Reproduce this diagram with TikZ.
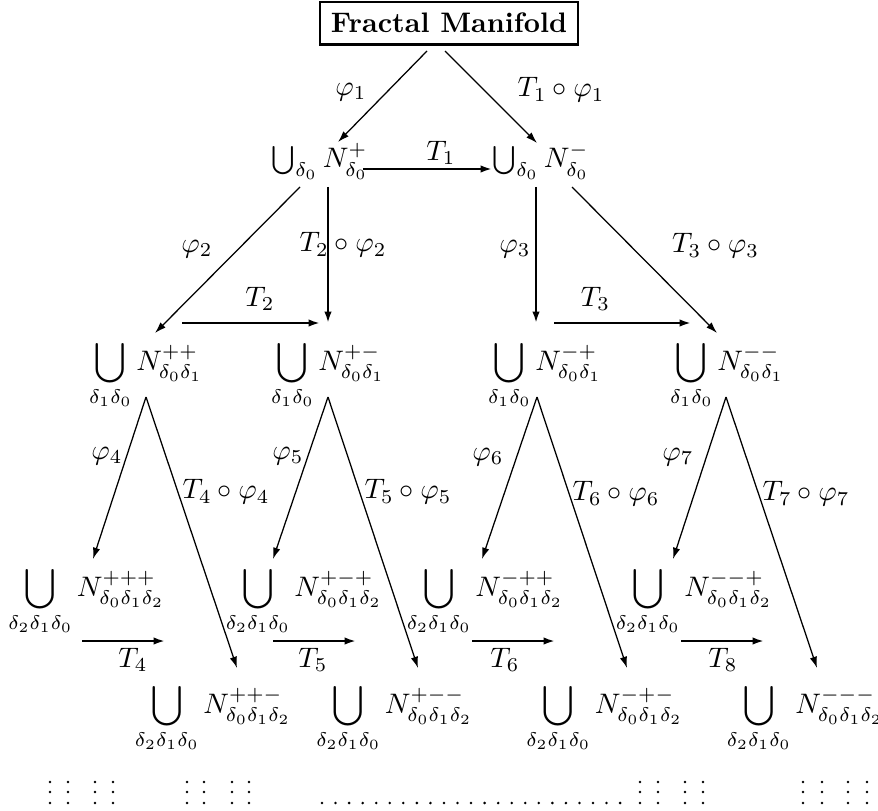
\documentclass[tikz,border=0pt]{standalone}
\usepackage{amsmath,amssymb}
\usepackage{tikz}
\usetikzlibrary{arrows.meta,positioning,calc}

\begin{document}
\begin{tikzpicture}[
  x=0.3546pt, y=-0.3546pt,
  >={Latex[length=4pt,width=2.6pt]},
  map/.style={->, line width=0.45pt},
  iso/.style={->, line width=0.75pt},
  lbl/.style={inner sep=1pt},
  mfd/.style={anchor=base, inner sep=0pt},
  title/.style={draw, line width=0.75pt, anchor=base,
                inner xsep=4pt, inner ysep=4pt, font=\bfseries}
]
\useasboundingbox (0,0) rectangle (878,810);

% ---- row baselines ----
\def\yA{168}
\def\yB{370}
\def\yC{596}
\def\yD{713}

% ---- Nodes ----
\node[title] (fm) at (449,33) {Fractal Manifold};

\node[mfd] (np) at (320,\yA) {$\bigcup_{\delta_0} N^{+}_{\delta_0}$};
\node[mfd] (nm) at (541,\yA) {$\bigcup_{\delta_0} N^{-}_{\delta_0}$};

\node[mfd] (npp) at (146,\yB) {$\displaystyle\bigcup_{\delta_1\delta_0} N^{++}_{\delta_0\delta_1}$};
\node[mfd] (npm) at (328,\yB) {$\displaystyle\bigcup_{\delta_1\delta_0} N^{+-}_{\delta_0\delta_1}$};
\node[mfd] (nmp) at (545,\yB) {$\displaystyle\bigcup_{\delta_1\delta_0} N^{-+}_{\delta_0\delta_1}$};
\node[mfd] (nmm) at (727,\yB) {$\displaystyle\bigcup_{\delta_1\delta_0} N^{--}_{\delta_0\delta_1}$};

\node[mfd] (nppp) at (86.5,\yC) {$\displaystyle\bigcup_{\delta_2\delta_1\delta_0} N^{+++}_{\delta_0\delta_1\delta_2}$};
\node[mfd] (npmp) at (304,\yC)  {$\displaystyle\bigcup_{\delta_2\delta_1\delta_0} N^{+-+}_{\delta_0\delta_1\delta_2}$};
\node[mfd] (nmpp) at (485,\yC)  {$\displaystyle\bigcup_{\delta_2\delta_1\delta_0} N^{-++}_{\delta_0\delta_1\delta_2}$};
\node[mfd] (nmmp) at (694,\yC)  {$\displaystyle\bigcup_{\delta_2\delta_1\delta_0} N^{--+}_{\delta_0\delta_1\delta_2}$};

\node[mfd] (nppm) at (213,\yD)   {$\displaystyle\bigcup_{\delta_2\delta_1\delta_0} N^{++-}_{\delta_0\delta_1\delta_2}$};
\node[mfd] (npmm) at (394.5,\yD) {$\displaystyle\bigcup_{\delta_2\delta_1\delta_0} N^{+--}_{\delta_0\delta_1\delta_2}$};
\node[mfd] (nmpm) at (604.5,\yD) {$\displaystyle\bigcup_{\delta_2\delta_1\delta_0} N^{-+-}_{\delta_0\delta_1\delta_2}$};
\node[mfd] (nmmm) at (805,\yD)   {$\displaystyle\bigcup_{\delta_2\delta_1\delta_0} N^{---}_{\delta_0\delta_1\delta_2}$};

% ---- first splitting ----
\draw[map] ($(fm.base)+(-22,18)$) -- node[lbl, shift={(-31.5,-4.5)}] {$\varphi_1$} ($(np.base)+(18,-26)$);
\draw[map] ($(fm.base)+(-4,18)$) -- node[lbl, shift={(70,-7)}] {$T_1\circ\varphi_1$} ($(nm.base)+(-4,-25)$);
\draw[iso] ($(np.base)+(43,1)$) -- node[lbl, shift={(13.5,-16)}] {$T_1$} ($(nm.base)+(-49,1)$);

% ---- second splitting ----
\draw[map] ($(np.base)+(-20,19)$) -- node[lbl, shift={(-30.5,-11)}] {$\varphi_2$} ($(npp.base)+(9,-37)$);
\draw[iso] ($(np.base)+(8,19)$) -- node[lbl, shift={(15,-10)}] {$T_2\circ\varphi_2$} ($(npm.base)+(0,-47)$);
\draw[iso] ($(npp.base)+(36,-47)$) -- node[lbl, shift={(9,-24)}] {$T_2$} ($(npm.base)+(-8,-47)$);

\draw[iso] ($(nm.base)+(-5,19)$) -- node[lbl, shift={(-21,-6)}] {$\varphi_3$} ($(nmp.base)+(-9,-47)$);
\draw[map] ($(nm.base)+(31,19)$) -- node[lbl, shift={(71,-14)}] {$T_3\circ\varphi_3$} ($(nmm.base)+(-10,-37)$);
\draw[iso] ($(nmp.base)+(9,-47)$) -- node[lbl, shift={(-27,-24)}] {$T_3$} ($(nmm.base)+(-36,-47)$);

% ---- third splitting ----
\draw[map] ($(npp.base)+(0,27)$) -- node[lbl, shift={(-12.5,-22)}] {$\varphi_4$} ($(nppp.base)+(6.5,-37)$);
\draw[map] ($(npp.base)+(0,27)$) -- node[lbl, shift={(34.5,-40.5)}] {$T_4\circ\varphi_4$} ($(nppm.base)+(24,-45)$);
\draw[map] ($(npm.base)+(0,27)$) -- node[lbl, shift={(-12.5,-22)}] {$\varphi_5$} ($(npmp.base)+(-31,-37)$);
\draw[map] ($(npm.base)+(0,27)$) -- node[lbl, shift={(35,-40.5)}] {$T_5\circ\varphi_5$} ($(npmm.base)+(23.5,-45)$);
\draw[map] ($(nmp.base)+(-8,27)$) -- node[lbl, shift={(-21.5,-21)}] {$\varphi_6$} ($(nmpp.base)+(-3,-37)$);
\draw[map] ($(nmp.base)+(-8,27)$) -- node[lbl, shift={(34,-38.5)}] {$T_6\circ\varphi_6$} ($(nmpm.base)+(22.5,-45)$);
\draw[map] ($(nmm.base)+(-1,27)$) -- node[lbl, shift={(-21.5,-21)}] {$\varphi_7$} ($(nmmp.base)+(-21,-37)$);
\draw[map] ($(nmm.base)+(-1,27)$) -- node[lbl, shift={(34.5,-38.5)}] {$T_7\circ\varphi_7$} ($(nmmm.base)+(12,-45)$);

\draw[iso] ($(nppp.base)+(-4.5,45)$) -- node[lbl, shift={(9.5,19)}] {$T_4$} ($(nppm.base)+(-48,-72)$);
\draw[iso] ($(npmp.base)+(-31,45)$) -- node[lbl, shift={(-1.5,19)}] {$T_5$} ($(npmm.base)+(-38.5,-72)$);
\draw[iso] ($(nmpp.base)+(-13,45)$) -- node[lbl, shift={(-8.5,19)}] {$T_6$} ($(nmpm.base)+(-49.5,-72)$);
\draw[iso] ($(nmmp.base)+(-13,45)$) -- node[lbl, shift={(0.5,19)}] {$T_8$} ($(nmmm.base)+(-41,-72)$);

% ---- and so on ----
\foreach \x in {50,68,95,113,187,204,232,249,640,658,685,703,803,822,848,867}
  \foreach \y in {782,792,803}
    \fill (\x,\y) circle[radius=0.5pt];
\foreach \i in {0,...,22}
  \fill ({322+13.55*\i},803) circle[radius=0.5pt];

\end{tikzpicture}
\end{document}
